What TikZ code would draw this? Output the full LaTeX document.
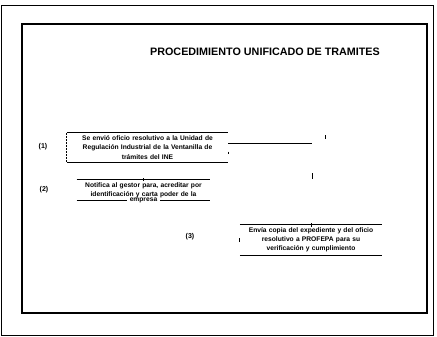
\documentclass[tikz,border=0pt]{standalone}
\usepackage{fontspec}
\setmainfont{Liberation Sans}
\usetikzlibrary{positioning}

\begin{document}
\begin{tikzpicture}[
    x=0.03cm, y=-0.03cm,
    stepbox/.style={inner sep=0pt, align=center, font=\fontsize{5.7}{7.8}\selectfont\bfseries},
    rule/.style={line width=0.8pt},
    numlabel/.style={font=\fontsize{6}{7}\selectfont\bfseries}
]
\useasboundingbox (0,0) rectangle (437,337);

% --- page frames ---
\draw[line width=0.6pt] (1.5,5) rectangle (433.5,335.5);
\draw[line width=1.3pt] (22,24) rectangle (427,313);

% --- title ---
\node[font=\fontsize{9.2}{11}\selectfont\bfseries] (title) at (265,52) {PROCEDIMIENTO UNIFICADO DE TRAMITES};

% --- step 1 ---
\node[stepbox, text width=4.83cm, minimum height=0.87cm] (paso1) at (147.5,147.5) {
    Se envió oficio resolutivo a la Unidad de\\
    Regulación Industrial de la Ventanilla de\\
    trámites del INE};
\node[numlabel] (num1) at (43,147) {(1)};
\draw[rule] (paso1.north west) -- (paso1.north east);
\draw[rule] (paso1.south west) -- (paso1.south east);
\draw[line width=0.8pt, dash pattern=on 2pt off 0.6pt] (paso1.north west) -- (paso1.south west);
\draw[line width=0.6pt] ([yshift=-0.12cm]paso1.east) -- ([yshift=-0.2cm]paso1.east);
\coordinate (giro) at (312,143);
\draw[rule] (paso1.east |- giro) -- (giro);
\draw[line width=0.6pt] (325,135) -- (325,139);
\draw[line width=0.8pt] (312,173) -- (312,179);

% --- step 2 ---
\node[stepbox, text width=4.0cm] (paso2) at (143.5,190) {
    Notifica al gestor para, acreditar por\\
    identificación y carta poder de la};
\node[stepbox, below=0pt of paso2] (cola2) {empresa};
\node[numlabel] (num2) at (44,190) {(2)};
\draw[rule] ([yshift=0.08cm]paso2.north west) -- ([yshift=0.08cm]paso2.north east);
\draw[rule] (paso2.south west |- cola2.west) -- ([xshift=-2pt]cola2.west);
\draw[rule] ([xshift=2pt]cola2.east) -- (paso2.south east |- cola2.east);
\draw[line width=0.8pt] ([yshift=0.03cm]paso2.north) -- ([yshift=0.13cm]paso2.north);

% --- step 3 ---
\node[stepbox, text width=4.26cm, minimum height=0.9cm] (paso3) at (311,240) {
    Envía copia del expediente y del oficio\\
    resolutivo a PROFEPA para su\\
    verificación y cumplimiento};
\node[numlabel] (num3) at (190,237) {(3)};
\draw[rule] (paso3.north west) -- (paso3.north east);
\draw[rule] (paso3.south west) -- (paso3.south east);
\draw[line width=0.8pt] ([yshift=-1.5pt]paso3.north) -- ([yshift=1.5pt]paso3.north);
\draw[line width=0.6pt] ([yshift=-0.06cm]paso3.west) -- ([yshift=0.06cm]paso3.west);

\end{tikzpicture}
\end{document}
